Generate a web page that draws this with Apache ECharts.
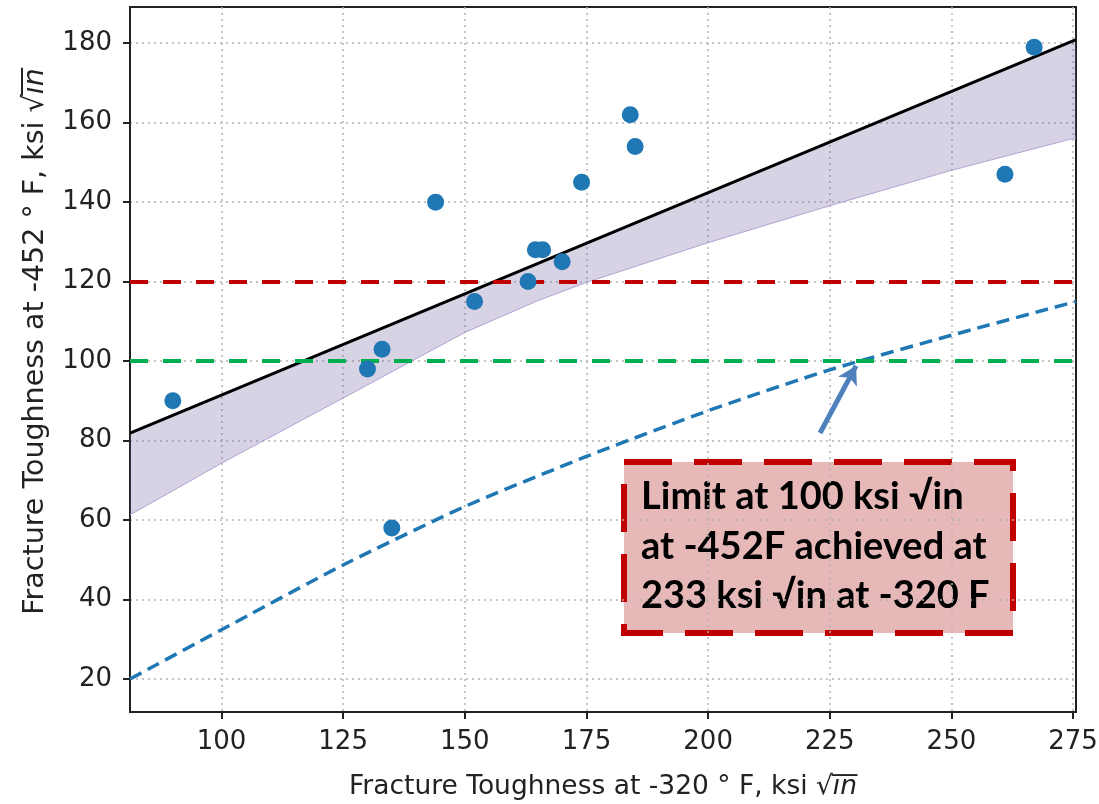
<!DOCTYPE html>
<html>
<head>
<meta charset="utf-8">
<script src="https://cdn.jsdelivr.net/npm/echarts@6/dist/echarts.min.js"></script>
<style>
    html, body { margin: 0; padding: 0; background: #fff; }
    #chart { width: 1099px; height: 804px; }
</style>
</head>
<body>
<div id="chart"></div>
<script>
    // measured points (-320F toughness vs -452F toughness)
    var pointX = [90, 130, 133, 135, 144, 152, 163, 164.5, 166, 170, 174, 184, 185, 261, 267];
    var pointY = [90, 98, 103, 58, 140, 115, 120, 128, 128, 125, 145, 162, 154, 147, 179];

    // regression line
    var fitX = [81.2, 275.6];
    var fitY = [81.9, 180.9];

    // shaded band (lower edge up to the fit line)
    var bandX = [81.2, 100, 125, 150, 165, 175, 200, 225, 250, 275.6];
    var bandLow = [61.3, 74.3, 90.7, 107.2, 115.2, 119.8, 129.8, 139.1, 148, 156.2];
    var bandHigh = [81.9, 91.5, 104.2, 116.9, 124.6, 129.7, 142.4, 155.1, 167.9, 180.9];

    // blue dashed curve
    var curveX = [81.2, 100, 125, 150, 175, 200, 225, 250, 275.6];
    var curveY = [20, 32.4, 48.7, 63.4, 76, 87.5, 97.8, 106.5, 115];

    // limits
    var redLimit = 120;
    var greenLimit = 100;

    // arrow to the 100 ksi crossing
    var arrowFrom = [223, 81.9];
    var arrowTo = [230.4, 98.8];

    var xTicks = [100, 125, 150, 175, 200, 225, 250, 275];
    var yTicks = [20, 40, 60, 80, 100, 120, 140, 160, 180];

    var noteLines = [
        'Limit at 100 ksi \u221Ain',
        'at -452F achieved at',
        '233 ksi \u221Ain at -320 F'
    ];

    var zip = function(a, b) {
        return a.map(function(v, i) { return [v, b[i]]; });
    };

    var tickFont = { fontFamily: 'DejaVu Sans', fontSize: 26, color: '#222' };
    var makeRich = function(size) {
        return {
            n: { fontFamily: 'DejaVu Sans', fontSize: size, color: '#222' },
            i: { fontFamily: 'DejaVu Sans', fontSize: size, fontStyle: 'italic', color: '#222' }
        };
    };
    var gridLine = { show: true, lineStyle: { color: '#b4b4b4', width: 1.5, type: [2, 4] } };

    var chart = echarts.init(document.getElementById('chart'));
    var option = {
        animation: false,
        backgroundColor: '#fff',
        grid: {
            left: 130, right: 23, top: 7, bottom: 92,
            show: true, borderColor: '#222', borderWidth: 2,
            outerBoundsMode: 'none'
        },
        xAxis: {
            type: 'value',
            min: 81.2,
            max: 275.6,
            name: '{n|Fracture Toughness at -320 \u00B0 F, ksi \u221A}{i|i\u0305n\u0305}',
            nameLocation: 'middle',
            nameGap: 62,
            nameTextStyle: { rich: makeRich(26.5) },
            axisLine: { lineStyle: { color: '#222', width: 2 } },
            axisTick: { show: true, length: 7, lineStyle: { color: '#222', width: 2 }, customValues: xTicks },
            axisLabel: Object.assign({ margin: 17, customValues: xTicks }, tickFont),
            splitLine: gridLine
        },
        yAxis: {
            type: 'value',
            min: 11.7,
            max: 189.1,
            name: '{n|Fracture Toughness at -452 \u00B0 F, ksi \u221A}{i|i\u0305n\u0305}',
            nameLocation: 'middle',
            nameRotate: 90,
            nameGap: 80,
            nameTextStyle: { rich: makeRich(28.5), padding: [0, 0, 0, 36] },
            axisLine: { show: true, lineStyle: { color: '#222', width: 2 } },
            axisTick: { show: true, length: 7, lineStyle: { color: '#222', width: 2 }, customValues: yTicks },
            axisLabel: Object.assign({ margin: 18, customValues: yTicks }, tickFont),
            splitLine: gridLine
        },
        series: [
            {
                // 置信带
                type: 'custom',
                data: bandX.map(function(x, i) { return [x, bandLow[i], bandHigh[i]]; }),
                renderItem: function(params, api) {
                    if (params.dataIndex !== 0) {
                        return null;
                    }
                    var pts = [];
                    bandX.forEach(function(x, i) { pts.push(api.coord([x, bandHigh[i]])); });
                    for (var k = bandX.length - 1; k >= 0; k--) {
                        pts.push(api.coord([bandX[k], bandLow[k]]));
                    }
                    return {
                        type: 'polygon',
                        shape: { points: pts },
                        style: { fill: 'rgba(110,90,160,0.27)', stroke: 'none' }
                    };
                },
                encode: { x: 0, y: 1 },
                z: 1
            },
            {
                type: 'line',
                data: zip(bandX, bandLow),
                showSymbol: false,
                lineStyle: { color: '#b2a3d3', width: 1 },
                z: 2
            },
            {
                type: 'line',
                data: zip(curveX, curveY),
                showSymbol: false,
                smooth: 0.2,
                lineStyle: { color: '#1f77b4', width: 3.5, type: [13, 7] },
                z: 3
            },
            {
                type: 'line',
                data: zip(fitX, fitY),
                showSymbol: false,
                lineStyle: { color: '#000', width: 3 },
                z: 4,
                markLine: {
                    silent: true,
                    symbol: 'none',
                    label: { show: false },
                    data: [
                        { yAxis: redLimit, lineStyle: { color: '#c00000', width: 4, type: [18, 15] } },
                        { yAxis: greenLimit, lineStyle: { color: '#00b050', width: 4, type: [18, 15] } },
                        [
                            { coord: arrowFrom, symbol: 'none' },
                            { coord: arrowTo, symbol: 'arrow', symbolSize: [16, 18], lineStyle: { color: '#4f81bd', width: 5, type: 'solid' } }
                        ]
                    ]
                }
            },
            {
                type: 'scatter',
                data: zip(pointX, pointY),
                symbolSize: 17,
                itemStyle: { color: '#1f77b4', opacity: 1 },
                z: 5
            }
        ],
        graphic: [
            {
                type: 'group',
                left: 621,
                top: 459,
                z: 100,
                children: [
                    {
                        type: 'rect',
                        shape: { x: 0, y: 0, width: 389, height: 171 },
                        style: { fill: '#e6b8b7', stroke: '#c00000', lineWidth: 6, lineDash: [48, 22] }
                    },
                    {
                        type: 'text',
                        x: 17,
                        y: 10,
                        style: {
                            text: noteLines.join('\n'),
                            font: 'bold 38px Lato',
                            lineHeight: 49.5,
                            fill: '#000'
                        }
                    }
                ]
            }
        ]
    };
    chart.setOption(option);
</script>
</body>
</html>
